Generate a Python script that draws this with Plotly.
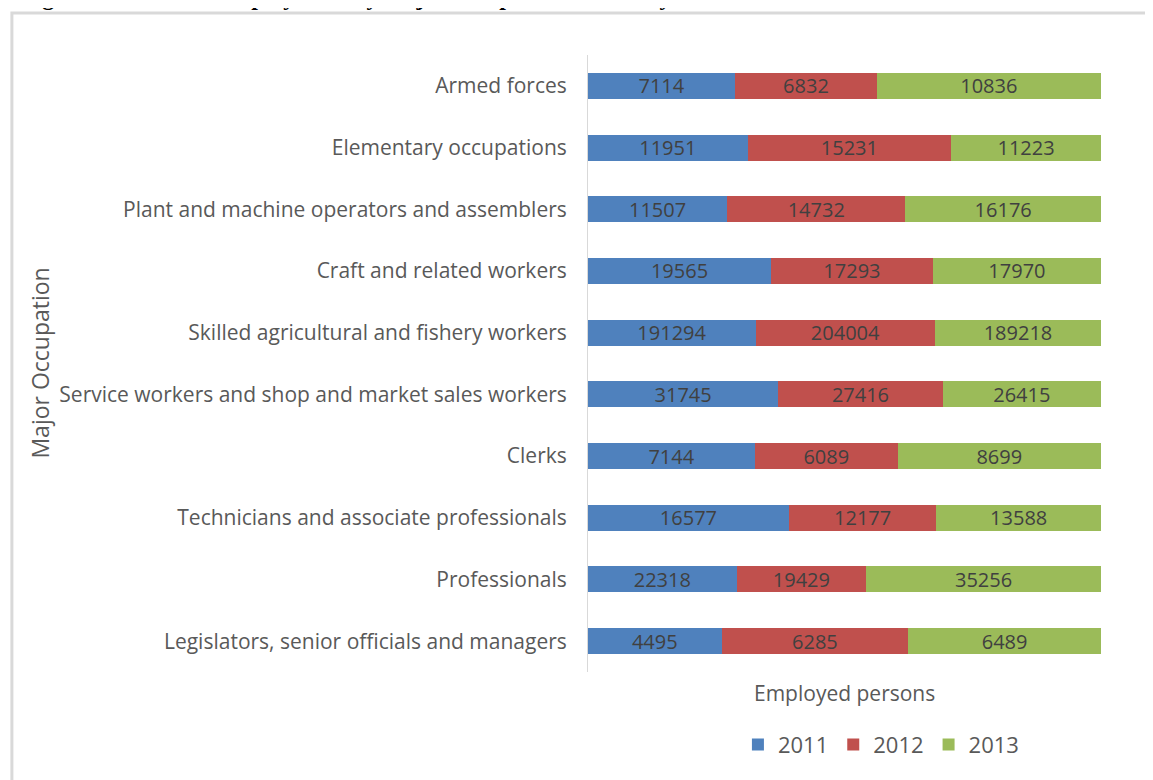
import plotly.graph_objects as go

# rows listed top to bottom as in the picture
occupations = [
    'Armed forces',
    'Elementary occupations',
    'Plant and machine operators and assemblers',
    'Craft and related workers',
    'Skilled agricultural and fishery workers',
    'Service workers and shop and market sales workers',
    'Clerks',
    'Technicians and associate professionals',
    'Professionals',
    'Legislators, senior officials and managers',
]
years = ['2011', '2012', '2013']
emp_2011 = [7114, 11951, 11507, 19565, 191294, 31745, 7144, 16577, 22318, 4495]
emp_2012 = [6832, 15231, 14732, 17293, 204004, 27416, 6089, 12177, 19429, 6285]
emp_2013 = [10836, 11223, 16176, 17970, 189218, 26415, 8699, 13588, 35256, 6489]
colors = ['#4F81BD', '#C0504D', '#9BBB59']

FONT = 'Open Sans'
GREY = '#595959'

fig = go.Figure()
for yr, vals, col in zip(years, [emp_2011, emp_2012, emp_2013], colors):
    fig.add_trace(go.Bar(y=occupations, x=vals, name=yr, orientation='h',
                         marker=dict(color=col, line=dict(width=0)),
                         text=[str(v) for v in vals],
                         textposition='inside', insidetextanchor='middle',
                         constraintext='none',
                         textfont=dict(family=FONT, size=20, color='#404040'),
                         cliponaxis=False))

# page body has an 8px margin, so margins are shifted to compensate
fig.update_layout(
    width=1153, height=780,
    barmode='stack', barnorm='percent', bargap=0.58,
    paper_bgcolor='white', plot_bgcolor='white',
    margin=dict(l=580, r=60, t=47, b=116),
    font=dict(family=FONT, color=GREY),
    showlegend=True,
    legend=dict(orientation='h', x=0.571, xanchor='center', y=-0.118, yanchor='middle',
                font=dict(size=22, color=GREY), traceorder='normal', itemwidth=30),
)
# tiny headroom so the rounded 100% end of the last segment stays in range
fig.update_xaxes(range=[0, 100.001], showticklabels=False, showgrid=False,
                 zeroline=False, showline=False)
fig.update_yaxes(autorange='reversed', showgrid=False, showline=True,
                 linecolor='#D9D9D9', linewidth=1, ticks='',
                 ticklabelstandoff=16,
                 tickfont=dict(family=FONT, size=21, color=GREY))

# axis titles
fig.add_annotation(text='Employed persons', xref='paper', yref='paper',
                   x=0.5, y=-0.034, showarrow=False, yanchor='middle',
                   font=dict(family=FONT, size=21, color=GREY))
fig.add_annotation(text='Major Occupation', xref='paper', yref='paper',
                   x=-1.07, y=0.5, showarrow=False, textangle=-90,
                   xanchor='center', yanchor='middle',
                   font=dict(family=FONT, size=23, color=GREY))

# cut-off figure caption at the very top
fig.add_annotation(text='<b>Figure 1.3: Formal employment by major occupation over the years</b>',
                   xref='paper', yref='paper', x=-1.11, y=1.0697,
                   xanchor='left', yanchor='bottom', showarrow=False,
                   font=dict(family='Liberation Serif', size=24, color='black'))

# chart frame (right and bottom edges fall outside the picture)
fig.add_shape(type='rect', xref='paper', yref='paper',
              x0=-1.123, x1=1.12, y0=-0.2, y1=1.068,
              line=dict(color='#D9D9D9', width=3), layer='below')

fig.write_html('out.html')
